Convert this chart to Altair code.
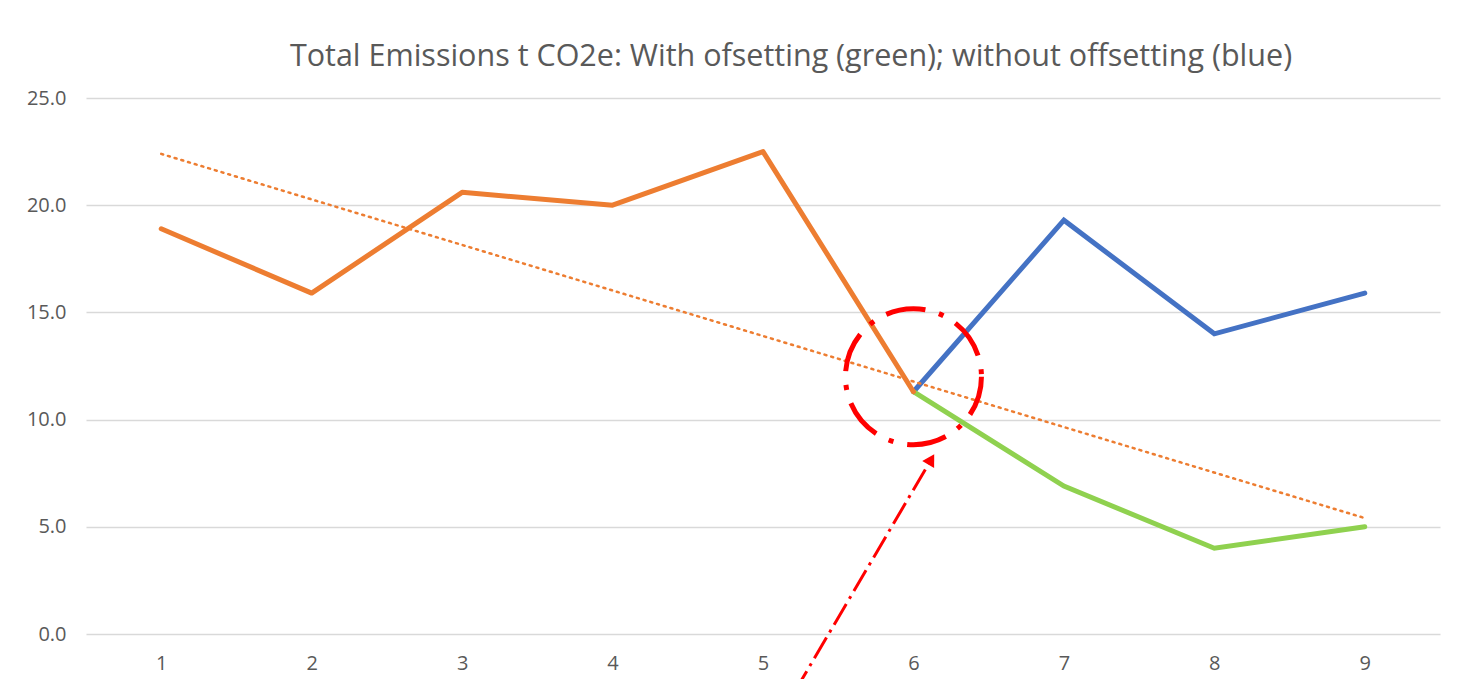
import altair as alt
import pandas as pd

# ---- data ----
periods = [1, 2, 3, 4, 5, 6, 7, 8, 9]
with_offsetting = [18.9, 15.9, 20.6, 20.0, 22.5, 11.3, 6.9, 4.0, 5.0]
without_periods = [6, 7, 8, 9]
without_offsetting = [11.3, 19.3, 14.0, 15.9]
history_periods = [1, 2, 3, 4, 5, 6]

# annotation (data coordinates)
circle_x = [6.0]
circle_y = [12.0]
arrow_x = [5.21, 6.118]
arrow_y = [-2.7, 8.14]
arrow_angle = [30.5]

TITLE = "Total Emissions t CO2e: With ofsetting (green); without offsetting (blue)"
FONT = "Open Sans"
TXT = "#595959"

full_df = pd.DataFrame({"x": periods, "y": with_offsetting})
hist_df = full_df[full_df["x"].isin(history_periods)]
green_df = full_df[full_df["x"] >= 6]
blue_df = pd.DataFrame({"x": without_periods, "y": without_offsetting})
circle_df = pd.DataFrame({"x": circle_x, "y": circle_y})
arrow_df = pd.DataFrame({"x": arrow_x, "y": arrow_y})
head_df = pd.DataFrame({"x": arrow_x[-1:], "y": arrow_y[-1:], "a": arrow_angle})

xs = alt.Scale(domain=[0.5, 9.5], nice=False, zero=False)
ys = alt.Scale(domain=[0, 25], nice=False)

X = alt.X("x:Q", scale=xs, axis=alt.Axis(values=periods, format="d", grid=False,
                                          domain=False, ticks=False, tickSize=0,
                                          labelPadding=19, title=None,
                                          labelFont=FONT, labelFontSize=20, labelColor=TXT))
Y = alt.Y("y:Q", scale=ys, axis=alt.Axis(values=[0, 5, 10, 15, 20, 25], format=".1f",
                                          grid=True, domain=False, ticks=False, tickSize=0,
                                          labelPadding=20, title=None,
                                          labelFont=FONT, labelFontSize=20, labelColor=TXT,
                                          gridColor="#D9D9D9", gridWidth=1.4))
Xn = alt.X("x:Q", scale=xs)
Yn = alt.Y("y:Q", scale=ys)

blue = alt.Chart(blue_df).mark_line(color="#4472C4", strokeWidth=5, strokeCap="round").encode(x=X, y=Y)
green = alt.Chart(green_df).mark_line(color="#8FD14F", strokeWidth=5, strokeCap="round").encode(x=Xn, y=Yn)
orange = alt.Chart(hist_df).mark_line(color="#ED7D31", strokeWidth=5, strokeCap="round",
                                      strokeJoin="round").encode(x=Xn, y=Yn)
trend = (alt.Chart(full_df)
         .transform_regression("x", "y", extent=[1, 9])
         .mark_line(color="#ED7D31", strokeWidth=2.5, strokeDash=[2, 5], strokeCap="round")
         .encode(x=Xn, y=Yn))
circle = (alt.Chart(circle_df)
          .mark_point(shape="circle", filled=False, size=18500, color="#FF0000",
                      strokeWidth=5, strokeDash=[40, 14, 5, 14], opacity=1)
          .encode(x=Xn, y=Yn))
arrow = (alt.Chart(arrow_df)
         .mark_line(color="#FF0000", strokeWidth=3, strokeDash=[24, 6, 3, 6], clip=False)
         .encode(x=Xn, y=Yn))
head = (alt.Chart(head_df)
        .mark_point(shape="triangle-up", filled=True, size=190, color="#FF0000", opacity=1)
        .encode(x=Xn, y=Yn, angle=alt.Angle("a:Q", scale=None)))

chart = (alt.layer(blue, green, orange, trend, circle, arrow, head)
         .properties(
             width=1354, height=536,
             autosize=alt.AutoSizeParams(type="none"),
             padding={"left": 78, "top": 90, "right": 10, "bottom": 45},
             title=alt.TitleParams(TITLE, anchor="middle", frame="group", dx=28,
                                   fontSize=30.5, font=FONT, fontWeight="normal",
                                   color=TXT, baseline="alphabetic", offset=-8),
         )
         .configure_view(stroke=None))

chart.save("out.html", embed_options={"renderer": "svg", "actions": False})
